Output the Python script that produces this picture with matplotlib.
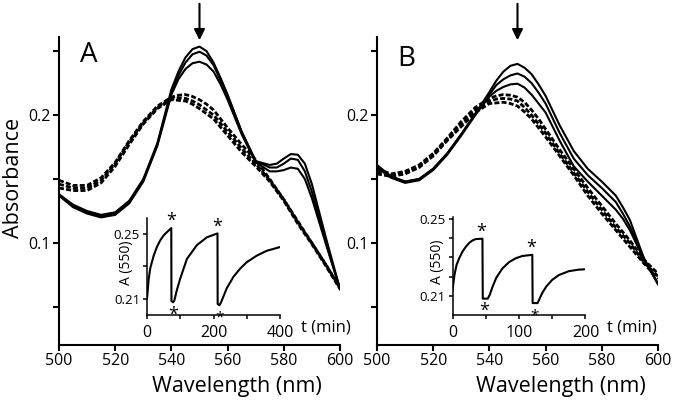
import numpy as np
import matplotlib
matplotlib.use("Agg")
import matplotlib.pyplot as plt

plt.rcParams['font.family'] = ['Open Sans', 'DejaVu Sans']

wl = [500, 505, 510, 515, 520, 525, 530, 535, 540, 542.5, 545, 547.5, 550, 552.5,
      555, 557.5, 560, 565, 570, 575, 577.5, 580, 582.5, 585, 587.5, 590, 595, 600]

# panel A spectra
a_solid = [
    [0.138, 0.130, 0.125, 0.122, 0.124, 0.133, 0.150, 0.178, 0.220, 0.234, 0.245, 0.2515,
     0.2535, 0.250, 0.241, 0.229, 0.216, 0.187, 0.164, 0.161, 0.162, 0.166, 0.1695, 0.169,
     0.162, 0.146, 0.104, 0.064],
    [0.138, 0.129, 0.124, 0.121, 0.123, 0.132, 0.149, 0.177, 0.218, 0.231, 0.241, 0.2475,
     0.2495, 0.2465, 0.239, 0.227, 0.215, 0.187, 0.164, 0.159, 0.159, 0.162, 0.166, 0.165,
     0.156, 0.140, 0.101, 0.064],
    [0.137, 0.128, 0.123, 0.120, 0.122, 0.131, 0.148, 0.176, 0.216, 0.228, 0.236, 0.2405,
     0.2417, 0.2395, 0.234, 0.224, 0.212, 0.185, 0.163, 0.156, 0.156, 0.157, 0.159, 0.158,
     0.150, 0.135, 0.099, 0.064],
]
a_dash = [
    [0.149, 0.145, 0.145, 0.151, 0.163, 0.180, 0.195, 0.207, 0.214, 0.2155, 0.216, 0.2145,
     0.212, 0.2085, 0.204, 0.197, 0.190, 0.177, 0.165, 0.150, 0.142, 0.134, 0.1255, 0.117,
     0.1085, 0.100, 0.083, 0.065],
    [0.146, 0.143, 0.143, 0.149, 0.162, 0.179, 0.194, 0.206, 0.213, 0.2135, 0.213, 0.211,
     0.208, 0.204, 0.200, 0.1935, 0.187, 0.174, 0.162, 0.149, 0.1415, 0.134, 0.125, 0.116,
     0.108, 0.100, 0.083, 0.065],
    [0.143, 0.141, 0.141, 0.147, 0.160, 0.177, 0.193, 0.205, 0.212, 0.2115, 0.211, 0.2085,
     0.205, 0.201, 0.197, 0.1905, 0.184, 0.171, 0.160, 0.148, 0.1405, 0.133, 0.124, 0.115,
     0.107, 0.099, 0.082, 0.064],
]

# panel B spectra
b_solid = [
    [0.161, 0.152, 0.148, 0.150, 0.158, 0.170, 0.185, 0.201, 0.218, 0.227, 0.234, 0.2385,
     0.240, 0.237, 0.232, 0.224, 0.215, 0.192, 0.172, 0.158, 0.153, 0.148, 0.1425, 0.137,
     0.128, 0.118, 0.088, 0.068],
    [0.160, 0.152, 0.148, 0.150, 0.158, 0.170, 0.185, 0.201, 0.216, 0.2235, 0.228, 0.231,
     0.2325, 0.230, 0.225, 0.2175, 0.209, 0.186, 0.166, 0.153, 0.148, 0.143, 0.1375, 0.132,
     0.123, 0.113, 0.088, 0.068],
    [0.159, 0.151, 0.147, 0.149, 0.157, 0.169, 0.184, 0.200, 0.2145, 0.219, 0.222, 0.224,
     0.2245, 0.2215, 0.216, 0.209, 0.202, 0.180, 0.160, 0.148, 0.1425, 0.137, 0.1315, 0.126,
     0.119, 0.110, 0.087, 0.068],
]
b_dash = [
    [0.158, 0.154, 0.156, 0.161, 0.170, 0.182, 0.195, 0.206, 0.213, 0.215, 0.216, 0.2155,
     0.214, 0.210, 0.204, 0.197, 0.189, 0.173, 0.158, 0.143, 0.136, 0.129, 0.122, 0.115,
     0.1085, 0.102, 0.087, 0.076],
    [0.156, 0.153, 0.155, 0.160, 0.169, 0.181, 0.193, 0.204, 0.211, 0.2125, 0.213, 0.2125,
     0.211, 0.206, 0.200, 0.193, 0.186, 0.170, 0.155, 0.140, 0.133, 0.126, 0.119, 0.112,
     0.106, 0.100, 0.085, 0.074],
    [0.154, 0.152, 0.154, 0.159, 0.168, 0.180, 0.191, 0.202, 0.209, 0.2095, 0.210, 0.209,
     0.207, 0.2025, 0.197, 0.190, 0.183, 0.168, 0.153, 0.137, 0.130, 0.123, 0.1165, 0.110,
     0.1035, 0.097, 0.084, 0.072],
]

# insets: A(550) vs time
ta = [0, 5, 10, 20, 30, 40, 50, 60, 73, 73.5, 78, 82, 90, 100, 120, 150, 180, 212,
      212.5, 218, 222, 240, 260, 280, 300, 330, 360, 400]
ya = [0.210, 0.222, 0.229, 0.2365, 0.242, 0.246, 0.249, 0.251, 0.2535, 0.2085, 0.2078,
      0.2088, 0.2155, 0.2225, 0.2345, 0.243, 0.2478, 0.2502, 0.2068, 0.2060, 0.2075,
      0.2165, 0.2235, 0.2285, 0.2325, 0.2365, 0.2395, 0.2418]
tb = [0, 3, 6, 10, 15, 20, 25, 30, 35, 45, 45.5, 53, 56, 60, 66, 75, 85, 95, 105, 120,
      120.5, 128, 131, 135, 141, 150, 160, 175, 190, 200]
yb = [0.213, 0.221, 0.226, 0.2295, 0.233, 0.2355, 0.2375, 0.2388, 0.2395, 0.2397,
      0.2085, 0.2085, 0.2105, 0.2145, 0.2195, 0.2242, 0.2275, 0.2295, 0.2307, 0.2313,
      0.2062, 0.2062, 0.2085, 0.2115, 0.2148, 0.2183, 0.2208, 0.2228, 0.2236, 0.2238]

fig = plt.figure(figsize=(6.75, 4.01), dpi=100)

def main_panel(rect, solid, dash, letter, label_x, letter_y, ylabel):
    ax = fig.add_axes(rect)
    for s in solid:
        ax.plot(wl, s, color='black', lw=1.5)
    for d in dash:
        ax.plot(wl, d, color='black', lw=2.0, dashes=(1.8, 0.8))
    ax.set_xlim(500, 600)
    ax.set_ylim(0.0203, 0.261)
    ax.set_xticks(range(500, 601, 20))
    ax.set_yticks([0.05, 0.1, 0.15, 0.2, 0.25])
    ax.set_yticklabels(['', '0.1', '', '0.2', ''])
    for sp in ['top', 'right']:
        ax.spines[sp].set_visible(False)
    for sp in ['left', 'bottom']:
        ax.spines[sp].set_linewidth(1.5)
    ax.tick_params(direction='out', length=4, width=1.5, labelsize=11.5, pad=2)
    ax.set_xlabel('Wavelength (nm)', fontsize=15.5)
    ax.xaxis.set_label_coords(label_x, -0.102)
    if ylabel:
        ax.set_ylabel('Absorbance', fontsize=15.5)
        ax.yaxis.set_label_coords(-0.125, 0.544)
    ax.text(0.105, letter_y, letter, transform=ax.transAxes, fontsize=20,
            ha='center', va='center')
    ax.annotate('', xy=(550, 0.2585), xytext=(550, 0.287), annotation_clip=False,
                arrowprops=dict(arrowstyle='-|>', color='black', lw=1.5,
                                mutation_scale=16, shrinkA=0, shrinkB=0))
    return ax

def inset(rect, t, y, xmax, ylim, yt, ytl, xt, xtl, marks, lab_x):
    ax = fig.add_axes(rect)
    ax.plot(t, y, color='black', lw=1.5)
    ax.set_xlim(0, xmax)
    ax.set_ylim(*ylim)
    ax.set_yticks(yt)
    ax.set_yticklabels(ytl)
    ax.set_xticks(xt)
    ax.set_xticklabels(xtl)
    for sp in ['top', 'right']:
        ax.spines[sp].set_visible(False)
    for sp in ['left', 'bottom']:
        ax.spines[sp].set_linewidth(1.1)
    ax.tick_params(axis='x', direction='out', length=3, width=1.1, labelsize=11.5, pad=4)
    ax.tick_params(axis='y', direction='out', length=3, width=1.1, labelsize=9.5, pad=2)
    ax.patch.set_alpha(0)
    ax.set_ylabel('A (550)', fontsize=10)
    ax.yaxis.set_label_coords(lab_x, 0.54)
    ax.text(1.16, -0.125, 't (min)', transform=ax.transAxes, fontsize=12,
            ha='left', va='center')
    for (mx, my, up, fs) in marks:
        ax.annotate('*', xy=(mx, my), xytext=(0, 5 if up else -9),
                    textcoords='offset points', ha='center', va='center',
                    fontsize=fs)
    return ax

main_panel([0.0874, 0.1397, 0.4163, 0.768], a_solid, a_dash, 'A', 0.633, 0.94, True)
main_panel([0.5585, 0.1397, 0.4163, 0.768], b_solid, b_dash, 'B', 0.655, 0.93, False)

inset([0.2178, 0.2145, 0.197, 0.2431], ta, ya, 400, (0.2, 0.26),
      [0.21, 0.23, 0.25], ['0.21', '', '0.25'],
      [0, 100, 200, 300, 400], ['0', '', '200', '', '400'],
      [(73, 0.2535, True, 13), (80, 0.2078, False, 13),
       (212, 0.2502, True, 13), (219, 0.2060, False, 11)], -0.095)
inset([0.6704, 0.2145, 0.197, 0.2444], tb, yb, 200, (0.2, 0.251),
      [0.21, 0.22, 0.23, 0.24, 0.25], ['0.21', '', '', '', '0.25'],
      [0, 50, 100, 150, 200], ['0', '', '100', '', '200'],
      [(43, 0.2397, True, 13), (48, 0.2085, False, 13),
       (119, 0.2313, True, 13), (124, 0.2062, False, 11)], -0.058)

fig.savefig('out.png', dpi=100)
